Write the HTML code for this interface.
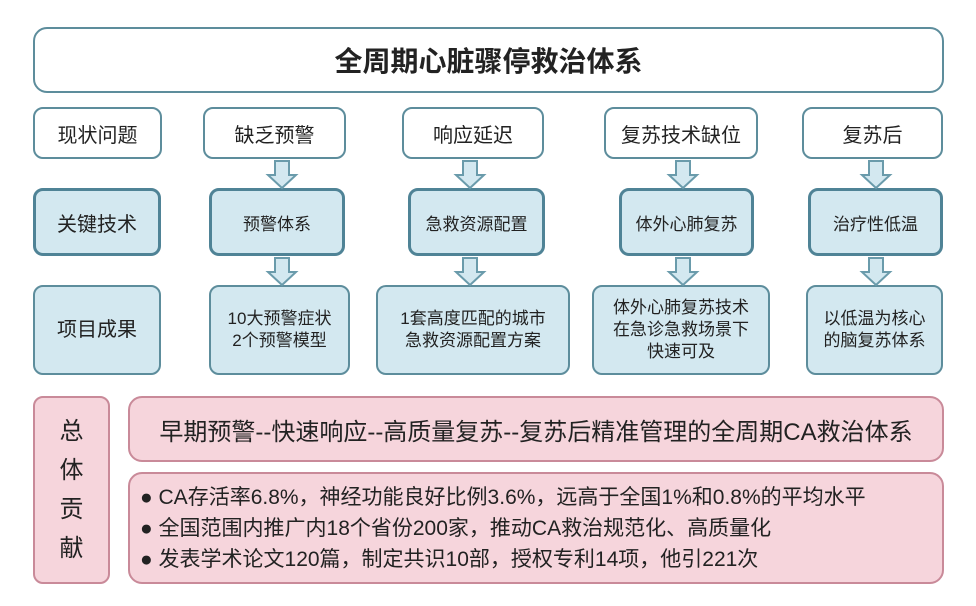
<!DOCTYPE html>
<html><head><meta charset="utf-8"><style>
body{margin:0;width:976px;height:606px;background:#fff;overflow:hidden;font-family:"Liberation Sans","Noto Sans CJK SC",sans-serif;color:#222}
.b{position:absolute;box-sizing:border-box;display:flex;align-items:center;justify-content:center;text-align:center;border-radius:10px}
.w{border:2px solid #5d8d9c;background:#fff;font-size:20px}
.k{border:3px solid #4f8396;background:#d3e8f0;font-size:17px}
.r{border:2px solid #5d8d9c;background:#d3e8f0;font-size:17px;line-height:22px}
.p{border:2px solid #c98a99;background:#f6d5dc}
svg{position:absolute}
</style></head><body>
<div class="b w" style="left:33px;top:27px;width:911px;height:66px;font-size:28px;font-weight:bold;border-radius:14px">全周期心脏骤停救治体系</div>

<div class="b w" style="left:33px;top:107px;width:129px;height:52px">现状问题</div>
<div class="b w" style="left:203px;top:107px;width:143px;height:52px">缺乏预警</div>
<div class="b w" style="left:402px;top:107px;width:142px;height:52px">响应延迟</div>
<div class="b w" style="left:604px;top:107px;width:154px;height:52px">复苏技术缺位</div>
<div class="b w" style="left:802px;top:107px;width:141px;height:52px">复苏后</div>

<div class="b k" style="left:33px;top:188px;width:128px;height:68px;font-size:20px">关键技术</div>
<div class="b k" style="left:209px;top:188px;width:136px;height:68px">预警体系</div>
<div class="b k" style="left:408px;top:188px;width:137px;height:68px">急救资源配置</div>
<div class="b k" style="left:619px;top:188px;width:135px;height:68px">体外心肺复苏</div>
<div class="b k" style="left:808px;top:188px;width:135px;height:68px">治疗性低温</div>

<div class="b r" style="left:33px;top:285px;width:128px;height:90px;font-size:20px">项目成果</div>
<div class="b r" style="left:209px;top:285px;width:141px;height:90px">10大预警症状<br>2个预警模型</div>
<div class="b r" style="left:376px;top:285px;width:194px;height:90px">1套高度匹配的城市<br>急救资源配置方案</div>
<div class="b r" style="left:592px;top:285px;width:178px;height:90px">体外心肺复苏技术<br>在急诊急救场景下<br>快速可及</div>
<div class="b r" style="left:806px;top:285px;width:137px;height:90px">以低温为核心<br>的脑复苏体系</div>

<svg width="976" height="606" style="left:0;top:0">
<defs><g id="a"><path d="M-7,0 H7 V14 H14 L0,27 L-14,14 H-7 Z" fill="#d3e8f0" stroke="#6a9bab" stroke-width="2"/></g></defs>
<use href="#a" x="282" y="161"/><use href="#a" x="470" y="161"/><use href="#a" x="683" y="161"/><use href="#a" x="876" y="161"/>
<use href="#a" x="282" y="258"/><use href="#a" x="470" y="258"/><use href="#a" x="683" y="258"/><use href="#a" x="876" y="258"/>
</svg>

<div class="b p" style="left:33px;top:396px;width:77px;height:188px;font-size:24px;line-height:39px;flex-direction:column">总<br>体<br>贡<br>献</div>
<div class="b p" style="left:128px;top:396px;width:816px;height:66px;font-size:24px;border-radius:14px">早期预警--快速响应--高质量复苏--复苏后精准管理的全周期CA救治体系</div>
<div class="b p" style="left:128px;top:472px;width:816px;height:112px;font-size:21px;line-height:31px;justify-content:flex-start;text-align:left;padding-left:10px;border-radius:14px">
<div>● CA存活率6.8%，神经功能良好比例3.6%，远高于全国1%和0.8%的平均水平<br>● 全国范围内推广内18个省份200家，推动CA救治规范化、高质量化<br>● 发表学术论文120篇，制定共识10部，授权专利14项，他引221次</div></div>
</body></html>
